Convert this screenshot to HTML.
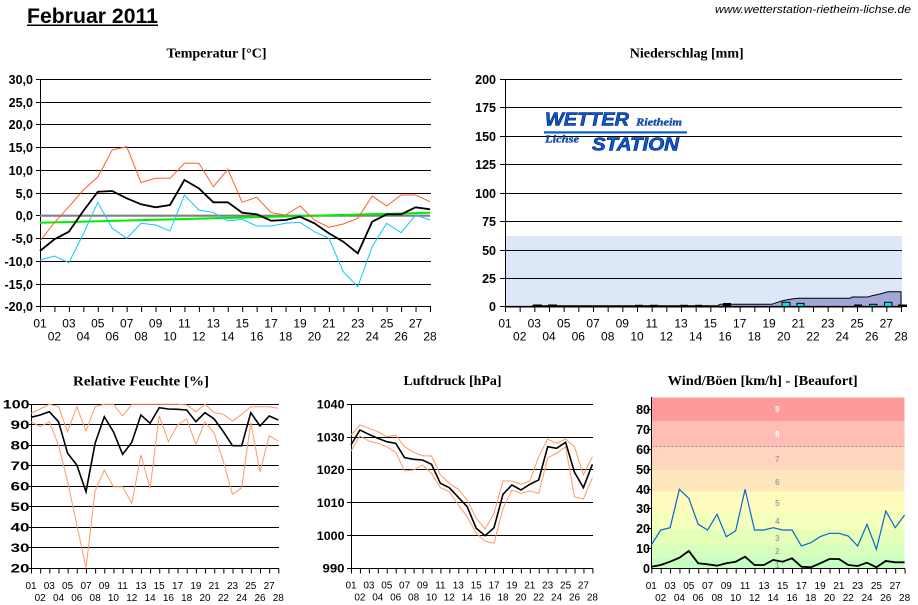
<!DOCTYPE html>
<html>
<head>
<meta charset="utf-8">
<style>
html,body{margin:0;padding:0;background:#fff;}
svg{display:block;}
.t{font-family:"Liberation Serif",serif;font-weight:bold;font-size:14px;fill:#000;}
.yl{font-family:"Liberation Sans",sans-serif;font-weight:bold;font-size:12.5px;fill:#000;}
.xl{font-family:"Liberation Sans",sans-serif;font-size:12px;fill:#000;}
.xs{font-family:"Liberation Sans",sans-serif;font-size:10px;fill:#000;}
.ys{font-family:"Liberation Sans",sans-serif;font-weight:bold;font-size:11.5px;fill:#000;}
.bf{font-family:"Liberation Sans",sans-serif;font-weight:bold;font-size:8px;}
</style>
</head>
<body>
<svg width="918" height="605" viewBox="0 0 918 605" xmlns="http://www.w3.org/2000/svg">
<rect x="0" y="0" width="918" height="605" fill="#fff"/>

<!-- Header -->
<text x="27" y="23" font-family="Liberation Sans, sans-serif" font-weight="bold" font-size="21" textLength="131" lengthAdjust="spacingAndGlyphs">Februar 2011</text>
<rect x="27" y="24.5" width="131" height="1.5" fill="#000"/>
<text x="715" y="13" font-family="Liberation Sans, sans-serif" font-style="italic" font-size="11" textLength="196" lengthAdjust="spacingAndGlyphs">www.wetterstation-rietheim-lichse.de</text>

<!-- ================= TEMPERATUR ================= -->
<text class="t" x="216.5" y="57.5" text-anchor="middle">Temperatur [°C]</text>
<g stroke="#000" stroke-width="1" shape-rendering="crispEdges">
<line x1="36" y1="79.5" x2="431" y2="79.5"/>
<line x1="36" y1="102.5" x2="431" y2="102.5"/>
<line x1="36" y1="124.5" x2="431" y2="124.5"/>
<line x1="36" y1="147.5" x2="431" y2="147.5"/>
<line x1="36" y1="170.5" x2="431" y2="170.5"/>
<line x1="36" y1="193.5" x2="431" y2="193.5"/>
<line x1="36" y1="238.5" x2="431" y2="238.5"/>
<line x1="36" y1="261.5" x2="431" y2="261.5"/>
<line x1="36" y1="284.5" x2="431" y2="284.5"/>
<line x1="36" y1="306.5" x2="431" y2="306.5"/>
<line x1="36" y1="215.5" x2="40" y2="215.5"/>
<line x1="40.5" y1="79" x2="40.5" y2="307"/>
</g>
<line x1="40" y1="309.5" x2="432" y2="309.5" stroke="#000" stroke-width="5" stroke-dasharray="1 13.444"/>
<g class="yl" text-anchor="end">
<text x="33" y="84">30,0</text>
<text x="33" y="107">25,0</text>
<text x="33" y="129">20,0</text>
<text x="33" y="152">15,0</text>
<text x="33" y="175">10,0</text>
<text x="33" y="198">5,0</text>
<text x="33" y="220">0,0</text>
<text x="33" y="243">-5,0</text>
<text x="33" y="266">-10,0</text>
<text x="33" y="289">-15,0</text>
<text x="33" y="311">-20,0</text>
</g>
<g class="xl" text-anchor="middle">
<text x="40" y="327.3">01</text><text x="68.9" y="327.3">03</text><text x="97.8" y="327.3">05</text><text x="126.7" y="327.3">07</text><text x="155.6" y="327.3">09</text><text x="184.4" y="327.3">11</text><text x="213.3" y="327.3">13</text><text x="242.2" y="327.3">15</text><text x="271.1" y="327.3">17</text><text x="300" y="327.3">19</text><text x="328.9" y="327.3">21</text><text x="357.8" y="327.3">23</text><text x="386.7" y="327.3">25</text><text x="415.6" y="327.3">27</text>
<text x="54.4" y="340.7">02</text><text x="83.3" y="340.7">04</text><text x="112.2" y="340.7">06</text><text x="141.1" y="340.7">08</text><text x="170" y="340.7">10</text><text x="198.9" y="340.7">12</text><text x="227.8" y="340.7">14</text><text x="256.7" y="340.7">16</text><text x="285.6" y="340.7">18</text><text x="314.4" y="340.7">20</text><text x="343.3" y="340.7">22</text><text x="372.2" y="340.7">24</text><text x="401.1" y="340.7">26</text><text x="430" y="340.7">28</text>
</g>
<line x1="40" y1="215.7" x2="430" y2="215.7" stroke="#808080" stroke-width="2.2"/>
<line x1="40" y1="222.7" x2="430" y2="212.7" stroke="#00ee00" stroke-width="2"/>
<polyline fill="none" stroke="#ff5a2a" stroke-width="1" points="40,241 54.4,222.7 68.9,206.7 83.3,190 97.8,177 112.2,150 126.7,146.7 141.1,182.5 155.6,178.3 170,178.3 184.4,163.3 198.9,163.3 213.3,186.7 227.8,169.3 242.2,202.3 256.7,197.3 271.1,212.7 285.6,215 300,206 314.4,220 328.9,227.3 343.3,224 357.8,218.3 372.2,196 386.7,206 401.1,195 415.6,195 430,201.7"/>
<polyline fill="none" stroke="#11c8ff" stroke-width="1" points="40,260 54.4,256 68.9,262.7 83.3,234 97.8,202.3 112.2,228.3 126.7,238.3 141.1,223.3 155.6,225 170,231 184.4,195 198.9,210 213.3,212.3 227.8,221 242.2,219.3 256.7,226 271.1,226 285.6,223.3 300,222.3 314.4,231.7 328.9,238.3 343.3,271.7 357.8,286.7 372.2,246.7 386.7,223.3 401.1,232.7 415.6,215 430,220"/>
<polyline fill="none" stroke="#000" stroke-width="1.8" points="40,251 54.4,239.3 68.9,231.7 83.3,211 97.8,191.7 112.2,191 126.7,198.3 141.1,204.3 155.6,207.3 170,205 184.4,180 198.9,188.3 213.3,202.3 227.8,202.3 242.2,212.7 256.7,214.3 271.1,220.7 285.6,220 300,216.7 314.4,223.3 328.9,233.3 343.3,241.7 357.8,253.3 372.2,221.7 386.7,214.3 401.1,214.3 415.6,207.3 430,209.3"/>

<!-- ================= NIEDERSCHLAG ================= -->
<text class="t" x="686.7" y="57.5" text-anchor="middle">Niederschlag [mm]</text>
<rect x="505" y="236" width="397" height="71" fill="#dde7f8"/>
<g stroke="#000" stroke-width="1" shape-rendering="crispEdges">
<line x1="500" y1="79.5" x2="902" y2="79.5"/>
<line x1="500" y1="107.5" x2="902" y2="107.5"/>
<line x1="500" y1="136.5" x2="902" y2="136.5"/>
<line x1="500" y1="164.5" x2="902" y2="164.5"/>
<line x1="500" y1="193.5" x2="902" y2="193.5"/>
<line x1="500" y1="221.5" x2="902" y2="221.5"/>
<line x1="500" y1="250.5" x2="902" y2="250.5"/>
<line x1="500" y1="278.5" x2="902" y2="278.5"/>
<line x1="500" y1="306.5" x2="505" y2="306.5"/>
<line x1="505.5" y1="79" x2="505.5" y2="307"/>
</g>
<polygon fill="#a3a7d8" stroke="#000" stroke-width="1" points="505,306.7 530,306.7 533,305.7 718,305.7 720,304.3 771.7,304.3 781.7,301 790,299.3 798,298.3 850,298.3 852,297 868,297 872,295.7 880,294 888,291.7 901,291.7 901,306.7"/>
<g fill="#000">
<rect x="533" y="304.5" width="9" height="2.5"/>
<rect x="548" y="304.5" width="9" height="2.5"/>
<rect x="635" y="304.8" width="8" height="2"/>
<rect x="650" y="304.8" width="8" height="2"/>
<rect x="680" y="304.8" width="8" height="2"/>
<rect x="695" y="304.8" width="7" height="2"/>
<rect x="723" y="303" width="8" height="4"/>
<rect x="854" y="304.5" width="8" height="2.5"/>
<rect x="898" y="304.5" width="9" height="2.5"/>
</g>
<g fill="#00e8f0" stroke="#000" stroke-width="1">
<rect x="782" y="302.3" width="8" height="4.4"/>
<rect x="797" y="303.3" width="7" height="3.4"/>
<rect x="869.5" y="304.3" width="7.5" height="2.4"/>
<rect x="884.5" y="302.3" width="7.5" height="4.4"/>
</g>
<line x1="505" y1="306.7" x2="902" y2="306.7" stroke="#000" stroke-width="1.6"/>
<line x1="505" y1="309.5" x2="903" y2="309.5" stroke="#000" stroke-width="5" stroke-dasharray="1 13.667"/>
<g class="yl" text-anchor="end">
<text x="496" y="84">200</text>
<text x="496" y="112">175</text>
<text x="496" y="141">150</text>
<text x="496" y="169">125</text>
<text x="496" y="198">100</text>
<text x="496" y="226">75</text>
<text x="496" y="255">50</text>
<text x="496" y="283">25</text>
<text x="496" y="311">0</text>
</g>
<g class="xl" text-anchor="middle">
<text x="505" y="327.3">01</text><text x="534.3" y="327.3">03</text><text x="563.7" y="327.3">05</text><text x="593" y="327.3">07</text><text x="622.3" y="327.3">09</text><text x="651.7" y="327.3">11</text><text x="681" y="327.3">13</text><text x="710.3" y="327.3">15</text><text x="739.7" y="327.3">17</text><text x="769" y="327.3">19</text><text x="798.3" y="327.3">21</text><text x="827.7" y="327.3">23</text><text x="857" y="327.3">25</text><text x="886.3" y="327.3">27</text>
<text x="519.7" y="340.7">02</text><text x="549" y="340.7">04</text><text x="578.3" y="340.7">06</text><text x="607.7" y="340.7">08</text><text x="637" y="340.7">10</text><text x="666.3" y="340.7">12</text><text x="695.7" y="340.7">14</text><text x="725" y="340.7">16</text><text x="754.3" y="340.7">18</text><text x="783.7" y="340.7">20</text><text x="813" y="340.7">22</text><text x="842.3" y="340.7">24</text><text x="871.7" y="340.7">26</text><text x="901" y="340.7">28</text>
</g>
<!-- logo -->
<g font-weight="bold" font-style="italic">
<text x="545" y="125.5" font-family="Liberation Sans, sans-serif" font-size="18" textLength="84" lengthAdjust="spacingAndGlyphs" fill="#0a5ad8" stroke="#00206a" stroke-width="0.6">WETTER</text>
<text x="636" y="125.5" font-family="Liberation Serif, serif" font-size="11" textLength="46" lengthAdjust="spacingAndGlyphs" fill="#0a5ad8" stroke="#00206a" stroke-width="0.3">Rietheim</text>
<rect x="544" y="131.3" width="143" height="2.2" fill="#0a5ad8" stroke="none"/>
<text x="545" y="142.5" font-family="Liberation Serif, serif" font-size="11" textLength="34" lengthAdjust="spacingAndGlyphs" fill="#0a5ad8" stroke="#00206a" stroke-width="0.3">Lichse</text>
<text x="592" y="150.5" font-family="Liberation Sans, sans-serif" font-size="18" textLength="87" lengthAdjust="spacingAndGlyphs" fill="#0a5ad8" stroke="#00206a" stroke-width="0.6">STATION</text>
</g>

<!-- ================= RELATIVE FEUCHTE ================= -->
<text class="t" x="141" y="385.5" text-anchor="middle" textLength="136" lengthAdjust="spacingAndGlyphs">Relative Feuchte [%]</text>
<g stroke="#000" stroke-width="1" shape-rendering="crispEdges">
<line x1="29" y1="404.5" x2="279" y2="404.5"/>
<line x1="29" y1="424.5" x2="279" y2="424.5"/>
<line x1="29" y1="445.5" x2="279" y2="445.5"/>
<line x1="29" y1="465.5" x2="279" y2="465.5"/>
<line x1="29" y1="486.5" x2="279" y2="486.5"/>
<line x1="29" y1="506.5" x2="279" y2="506.5"/>
<line x1="29" y1="527.5" x2="279" y2="527.5"/>
<line x1="29" y1="547.5" x2="279" y2="547.5"/>
<line x1="29" y1="568.5" x2="279" y2="568.5"/>
<line x1="31.5" y1="404" x2="31.5" y2="569"/>
</g>
<line x1="31" y1="571" x2="280" y2="571" stroke="#000" stroke-width="5" stroke-dasharray="1 8.16"/>
<g class="ys" text-anchor="end">
<text x="29.5" y="408.5" textLength="26.7" lengthAdjust="spacingAndGlyphs">100</text>
<text x="29.5" y="429" textLength="19" lengthAdjust="spacingAndGlyphs">90</text>
<text x="29.5" y="449.5" textLength="19" lengthAdjust="spacingAndGlyphs">80</text>
<text x="29.5" y="470" textLength="19" lengthAdjust="spacingAndGlyphs">70</text>
<text x="29.5" y="490.5" textLength="19" lengthAdjust="spacingAndGlyphs">60</text>
<text x="29.5" y="511" textLength="19" lengthAdjust="spacingAndGlyphs">50</text>
<text x="29.5" y="531.5" textLength="19" lengthAdjust="spacingAndGlyphs">40</text>
<text x="29.5" y="552" textLength="19" lengthAdjust="spacingAndGlyphs">30</text>
<text x="29.5" y="572.5" textLength="19" lengthAdjust="spacingAndGlyphs">20</text>
</g>
<g class="xs" text-anchor="middle">
<text x="31" y="589">01</text><text x="49.3" y="589">03</text><text x="67.6" y="589">05</text><text x="86" y="589">07</text><text x="104.3" y="589">09</text><text x="122.6" y="589">11</text><text x="140.9" y="589">13</text><text x="159.2" y="589">15</text><text x="177.6" y="589">17</text><text x="195.9" y="589">19</text><text x="214.2" y="589">21</text><text x="232.5" y="589">23</text><text x="250.8" y="589">25</text><text x="269.2" y="589">27</text>
<text x="40.2" y="601">02</text><text x="58.5" y="601">04</text><text x="76.8" y="601">06</text><text x="95.1" y="601">08</text><text x="113.4" y="601">10</text><text x="131.8" y="601">12</text><text x="150.1" y="601">14</text><text x="168.4" y="601">16</text><text x="186.7" y="601">18</text><text x="205" y="601">20</text><text x="223.4" y="601">22</text><text x="241.7" y="601">24</text><text x="260" y="601">26</text><text x="278.3" y="601">28</text>
</g>
<polyline fill="none" stroke="#ff9966" stroke-width="1" points="31,413.3 40.2,409 49.3,404.3 58.5,406.7 67.6,431.7 76.8,406.7 86,431 95.1,406.7 104.3,404.3 113.4,404.3 122.6,416 131.8,404.3 140.9,404.3 150.1,404.3 159.2,404.3 168.4,404.3 177.6,404.3 186.7,405 195.9,411.7 205,404.3 214.2,412.7 223.4,414.3 232.5,421 241.7,414.3 250.8,406.7 260,406.7 269.2,406.7 278.3,408.3"/>
<polyline fill="none" stroke="#ff9966" stroke-width="1" points="31,421.7 40.2,426.7 49.3,421.7 58.5,445 67.6,481.7 76.8,525 86,567.7 95.1,491 104.3,470 113.4,486.7 122.6,486.7 131.8,503.3 140.9,455 150.1,488.3 159.2,415.7 168.4,441.7 177.6,425 186.7,419 195.9,444.3 205,421.7 214.2,433.3 223.4,461.7 232.5,494.3 241.7,487.7 250.8,422.3 260,471.7 269.2,435.7 278.3,441"/>
<polyline fill="none" stroke="#000" stroke-width="1.6" points="31,417.3 40.2,415 49.3,411.7 58.5,421.7 67.6,453.3 76.8,465 86,491.7 95.1,443.3 104.3,416.7 113.4,431.7 122.6,454.3 131.8,442.3 140.9,415 150.1,423.3 159.2,407.7 168.4,409 177.6,409.3 186.7,410 195.9,421.7 205,412.7 214.2,419 223.4,431.7 232.5,445.7 241.7,445.7 250.8,412.7 260,426 269.2,416 278.3,420"/>

<!-- ================= LUFTDRUCK ================= -->
<text class="t" x="452.5" y="385" text-anchor="middle" textLength="98" lengthAdjust="spacingAndGlyphs">Luftdruck [hPa]</text>
<g stroke="#000" stroke-width="1" shape-rendering="crispEdges">
<line x1="347" y1="404.5" x2="593" y2="404.5"/>
<line x1="347" y1="437.5" x2="593" y2="437.5"/>
<line x1="347" y1="469.5" x2="593" y2="469.5"/>
<line x1="347" y1="502.5" x2="593" y2="502.5"/>
<line x1="347" y1="535.5" x2="593" y2="535.5"/>
<line x1="347" y1="568.5" x2="593" y2="568.5"/>
<line x1="351.5" y1="404" x2="351.5" y2="569"/>
</g>
<line x1="351" y1="571" x2="594" y2="571" stroke="#000" stroke-width="5" stroke-dasharray="1 7.94"/>
<g class="ys" text-anchor="end">
<text x="344.5" y="408.5" textLength="27.7" lengthAdjust="spacingAndGlyphs">1040</text>
<text x="344.5" y="441.5" textLength="27.7" lengthAdjust="spacingAndGlyphs">1030</text>
<text x="344.5" y="474" textLength="27.7" lengthAdjust="spacingAndGlyphs">1020</text>
<text x="344.5" y="507" textLength="27.7" lengthAdjust="spacingAndGlyphs">1010</text>
<text x="344.5" y="540" textLength="27.7" lengthAdjust="spacingAndGlyphs">1000</text>
<text x="344.5" y="572.5" textLength="22" lengthAdjust="spacingAndGlyphs">990</text>
</g>
<g class="xs" text-anchor="middle">
<text x="351" y="588.5">01</text><text x="368.9" y="588.5">03</text><text x="386.8" y="588.5">05</text><text x="404.6" y="588.5">07</text><text x="422.5" y="588.5">09</text><text x="440.4" y="588.5">11</text><text x="458.3" y="588.5">13</text><text x="476.2" y="588.5">15</text><text x="494" y="588.5">17</text><text x="511.9" y="588.5">19</text><text x="529.8" y="588.5">21</text><text x="547.7" y="588.5">23</text><text x="565.6" y="588.5">25</text><text x="583.4" y="588.5">27</text>
<text x="359.9" y="600.5">02</text><text x="377.8" y="600.5">04</text><text x="395.7" y="600.5">06</text><text x="413.6" y="600.5">08</text><text x="431.5" y="600.5">10</text><text x="449.3" y="600.5">12</text><text x="467.2" y="600.5">14</text><text x="485.1" y="600.5">16</text><text x="503" y="600.5">18</text><text x="520.9" y="600.5">20</text><text x="538.7" y="600.5">22</text><text x="556.6" y="600.5">24</text><text x="574.5" y="600.5">26</text><text x="592.4" y="600.5">28</text>
</g>
<polyline fill="none" stroke="#ff9966" stroke-width="1" points="351,435 359.9,425 368.9,428.3 377.8,431.7 386.8,436.7 395.7,435 404.6,446.7 413.6,452.3 422.5,455.7 431.5,456 440.4,475 449.3,483.3 458.3,489.3 467.2,500 476.2,518.3 485.1,529 494,513.3 503,481 511.9,481 520.9,484.3 529.8,481 538.7,456.7 547.7,439 556.6,443.3 565.6,439 574.5,446.7 583.4,475 592.4,456.7"/>
<polyline fill="none" stroke="#ff9966" stroke-width="1" points="351,451 359.9,436 368.9,441 377.8,443.3 386.8,446.7 395.7,452.3 404.6,471 413.6,470 422.5,465 431.5,473.3 440.4,487.7 449.3,491.7 458.3,505 467.2,516.7 476.2,533.3 485.1,541 494,543.3 503,508.3 511.9,490 520.9,493.3 529.8,491 538.7,493.3 547.7,457.7 556.6,453.3 565.6,446.7 574.5,496.7 583.4,499 592.4,477.7"/>
<polyline fill="none" stroke="#000" stroke-width="1.6" points="351,445 359.9,430 368.9,434.3 377.8,438.3 386.8,441.7 395.7,443.3 404.6,457.7 413.6,459.3 422.5,460 431.5,464.3 440.4,483.3 449.3,487.7 458.3,497.3 467.2,506.7 476.2,528.3 485.1,535.7 494,527.7 503,494.3 511.9,485 520.9,490 529.8,484.3 538.7,480 547.7,446.7 556.6,448.3 565.6,442.3 574.5,472.3 583.4,487.7 592.4,464.3"/>

<!-- ================= WIND ================= -->
<text class="t" x="762.7" y="385" text-anchor="middle" textLength="190" lengthAdjust="spacingAndGlyphs">Wind/Böen [km/h] - [Beaufort]</text>
<g shape-rendering="crispEdges">
<rect x="651.5" y="397.3" width="253.2" height="23.7" fill="#ff9a9a"/>
<rect x="651.5" y="421" width="253.2" height="25.5" fill="#ffbdb5"/>
<rect x="651.5" y="446.5" width="253.2" height="23.5" fill="#ffd6bd"/>
<rect x="651.5" y="470" width="253.2" height="21.5" fill="#ffe7bd"/>
<rect x="651.5" y="491.5" width="253.2" height="20" fill="#fffbbd"/>
<rect x="651.5" y="511.5" width="253.2" height="18" fill="#f3ffbb"/>
<rect x="651.5" y="529.5" width="253.2" height="15.5" fill="#e5ffb9"/>
<rect x="651.5" y="545" width="253.2" height="12.8" fill="#d6ffbd"/>
<rect x="651.5" y="557.8" width="253.2" height="10.7" fill="#c6ffc2"/>
</g>
<line x1="651.5" y1="446.5" x2="904.7" y2="446.5" stroke="#999" stroke-width="1" stroke-dasharray="2 2"/>
<g class="bf" text-anchor="middle">
<text x="777.3" y="412" fill="#fff">9</text>
<text x="777.3" y="437" fill="#fff">8</text>
<text x="777.3" y="462" fill="#a0a0a0">7</text>
<text x="777.3" y="485" fill="#a0a0a0">6</text>
<text x="777.3" y="506" fill="#a0a0a0">5</text>
<text x="777.3" y="524" fill="#a0a0a0">4</text>
<text x="777.3" y="541" fill="#a0a0a0">3</text>
<text x="777.3" y="554" fill="#a0a0a0">2</text>
<text x="777.3" y="568" fill="#a0a0a0">1</text>
</g>
<g stroke="#000" stroke-width="1" shape-rendering="crispEdges">
<line x1="651.5" y1="397" x2="651.5" y2="569"/>
<line x1="651" y1="568.5" x2="905" y2="568.5"/>
<line x1="647" y1="409.5" x2="651" y2="409.5"/>
<line x1="647" y1="429.5" x2="651" y2="429.5"/>
<line x1="647" y1="449.5" x2="651" y2="449.5"/>
<line x1="647" y1="469.5" x2="651" y2="469.5"/>
<line x1="647" y1="489.5" x2="651" y2="489.5"/>
<line x1="647" y1="508.5" x2="651" y2="508.5"/>
<line x1="647" y1="528.5" x2="651" y2="528.5"/>
<line x1="647" y1="548.5" x2="651" y2="548.5"/>
</g>
<line x1="651.3" y1="571" x2="906" y2="571" stroke="#000" stroke-width="5" stroke-dasharray="1 8.38"/>
<g class="yl" text-anchor="end">
<text x="650" y="414">80</text>
<text x="650" y="434">70</text>
<text x="650" y="454">60</text>
<text x="650" y="474">50</text>
<text x="650" y="494">40</text>
<text x="650" y="513">30</text>
<text x="650" y="533">20</text>
<text x="650" y="553">10</text>
<text x="650" y="573">0</text>
</g>
<g class="xs" text-anchor="middle">
<text x="651.3" y="589">01</text><text x="670.1" y="589">03</text><text x="688.8" y="589">05</text><text x="707.6" y="589">07</text><text x="726.3" y="589">09</text><text x="745.1" y="589">11</text><text x="763.9" y="589">13</text><text x="782.6" y="589">15</text><text x="801.4" y="589">17</text><text x="820.1" y="589">19</text><text x="838.9" y="589">21</text><text x="857.7" y="589">23</text><text x="876.4" y="589">25</text><text x="895.2" y="589">27</text>
<text x="660.7" y="601">02</text><text x="679.4" y="601">04</text><text x="698.2" y="601">06</text><text x="717" y="601">08</text><text x="735.7" y="601">10</text><text x="754.5" y="601">12</text><text x="773.2" y="601">14</text><text x="792" y="601">16</text><text x="810.8" y="601">18</text><text x="829.5" y="601">20</text><text x="848.3" y="601">22</text><text x="867" y="601">24</text><text x="885.8" y="601">26</text><text x="904.6" y="601">28</text>
</g>
<polyline fill="none" stroke="#0a66d0" stroke-width="1.2" points="651.3,545 660.7,530 670.1,527.7 679.4,489.3 688.8,498.3 698.2,524.3 707.6,530 717,514.3 726.3,536.7 735.7,530.7 745.1,489.3 754.5,530 763.9,530 773.2,527.7 782.6,530 792,530 801.4,546 810.8,542.7 820.1,536.7 829.5,533.3 838.9,533.3 848.3,536 857.7,546 867,524.3 876.4,549.3 885.8,511 895.2,527.7 904.6,515"/>
<polyline fill="none" stroke="#000" stroke-width="1.8" points="651.3,566.7 660.7,565 670.1,561.7 679.4,557.7 688.8,551 698.2,563.3 707.6,564.3 717,565.7 726.3,563.3 735.7,561.7 745.1,556.7 754.5,565 763.9,565 773.2,560 782.6,561.7 792,558.3 801.4,566.7 810.8,567.3 820.1,563.3 829.5,559 838.9,559 848.3,565 857.7,566 867,562.7 876.4,567.3 885.8,561 895.2,562.3 904.6,562.3"/>
</svg>
</body>
</html>
